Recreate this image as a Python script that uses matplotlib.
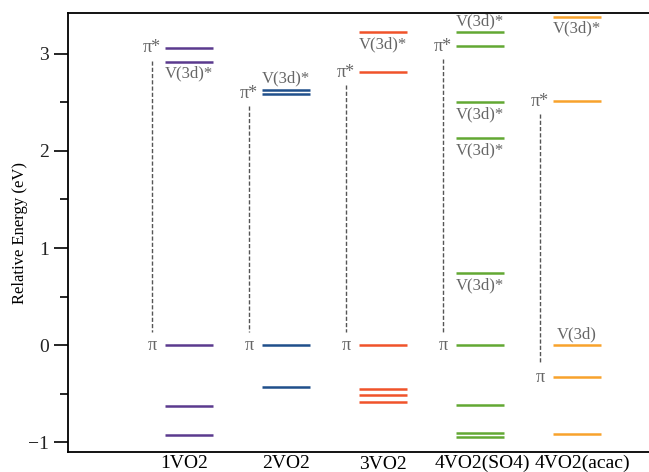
import matplotlib
matplotlib.use('Agg')
import matplotlib.pyplot as plt
from matplotlib.transforms import ScaledTranslation

plt.rcParams['font.family'] = ['Liberation Serif', 'DejaVu Serif']

# 분자별 에너지 준위 (eV)
groups = ['1VO2', '2VO2', '3VO2', '4VO2(SO4)', '4VO2(acac)']
colors = ['#5b3a8e', '#1f4f8b', '#f0532a', '#62a833', '#f8a22c']
levels_1 = [3.06, 2.92, 0.0, -0.63, -0.93]
levels_2 = [2.63, 2.59, 0.0, -0.43]
levels_3 = [3.22, 2.81, 0.0, -0.45, -0.51, -0.59]
levels_4 = [3.22, 3.08, 2.50, 2.13, 0.74, 0.0, -0.62, -0.90, -0.95]
levels_5 = [3.38, 2.51, 0.0, -0.33, -0.91]
levels = [levels_1, levels_2, levels_3, levels_4, levels_5]

# π* / π 위치 (점선 연결)
pi_star = [3.06, 2.59, 2.81, 3.08, 2.51]
pi = [0.0, 0.0, 0.0, 0.0, -0.33]

# V(3d) 라벨: (그룹, 에너지, 텍스트, 위/아래)
v_labels = [(0, 2.92, 'V(3d)*', 'below'),
            (1, 2.63, 'V(3d)*', 'above'),
            (2, 3.22, 'V(3d)*', 'below'),
            (3, 3.22, 'V(3d)*', 'above'),
            (3, 2.50, 'V(3d)*', 'below'),
            (3, 2.13, 'V(3d)*', 'below'),
            (3, 0.74, 'V(3d)*', 'below'),
            (4, 3.38, 'V(3d)*', 'below'),
            (4, 0.0, 'V(3d)', 'above')]

fig = plt.figure(figsize=(6.49, 4.72), dpi=100)
ax = fig.add_axes([68 / 649, 20 / 472, 1 - 68 / 649, 439 / 472])

hw = 0.25
tc = '#666666'
for i, (lv, c) in enumerate(zip(levels, colors)):
    for e in lv:
        ax.plot([i - hw, i + hw], [e, e], color=c, lw=1.8, solid_capstyle='butt')
    # π*, π 라벨
    ax.text(i - hw - 0.04, pi_star[i], 'π*', color=tc, fontsize=13, ha='right', va='center')
    ax.text(i - hw - 0.08, pi[i], 'π', color=tc, fontsize=13, ha='right', va='center')
    ax.plot([i - 0.38, i - 0.38], [pi_star[i] - 0.13, pi[i] + 0.14], color='#555555',
            lw=1.0, ls=(0, (3, 1.5)))

for g, e, t, pos in v_labels:
    if pos == 'below':
        ax.text(g, e - 0.04, t, color=tc, fontsize=12, ha='center', va='top')
    else:
        ax.text(g, e + 0.03, t, color=tc, fontsize=12, ha='center', va='bottom')

ax.set_xlim(-1.247, 4.742)
ax.set_ylim(-1.10, 3.42)
ax.set_yticks([-1, 0, 1, 2, 3])
ax.set_yticks([-0.5, 0.5, 1.5, 2.5], minor=True)
ax.set_xticks(range(5))
ax.set_xticklabels(groups)
ax.tick_params(axis='x', length=0, labelsize=14, pad=2)
ax.tick_params(axis='y', which='major', length=10, width=1.2, labelsize=14, direction='out',
               labelcolor='#222222')
ax.tick_params(axis='y', which='minor', length=6, width=1.2, direction='out')
ax.spines['right'].set_visible(False)
for s in ['left', 'bottom', 'top']:
    ax.spines[s].set_linewidth(1.3)
ax.set_ylabel('Relative Energy (eV)', fontsize=12)
ax.yaxis.set_label_coords(-0.068, 0.5)

# 라벨 위치 약간 조정 (원본처럼)
shifts = [(-5, 0), (0, 0), (0, -1), (2, 0), (5, 0)]
for lab, (dx, dy) in zip(ax.get_xticklabels(), shifts):
    lab.set_transform(lab.get_transform() + ScaledTranslation(dx / 100, dy / 100, fig.dpi_scale_trans))

plt.savefig('out.png', dpi=100)
